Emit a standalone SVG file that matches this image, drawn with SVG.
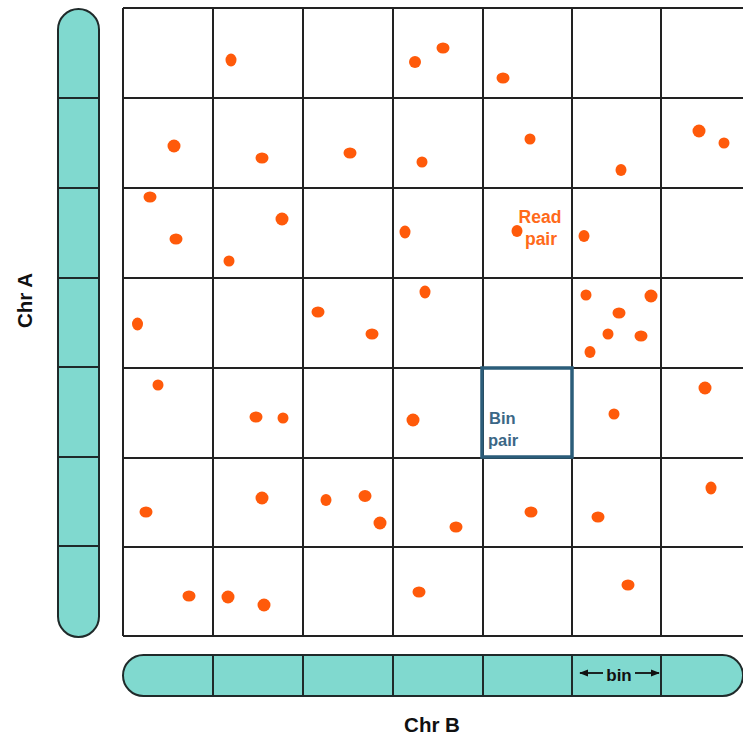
<svg xmlns="http://www.w3.org/2000/svg" width="743" height="740" viewBox="0 0 743 740">
<defs>
<style>
.bar{fill:#80d9cf;stroke:#1f2a2a;stroke-width:2}
.div{stroke:#1f2a2a;stroke-width:2}
.grid{stroke:#222;stroke-width:2;fill:none}
.dot{fill:#ff5a0a}
.lbl{font-family:"Liberation Sans",Arial,sans-serif;font-weight:bold}
</style>
<marker id="ah" viewBox="0 0 10 10" refX="9" refY="5" markerWidth="9" markerHeight="9" orient="auto-start-reverse" markerUnits="userSpaceOnUse">
<path d="M0,1 L10,5 L0,9 Z" fill="#111"/>
</marker>
</defs>
<rect width="743" height="740" fill="#fff"/>

<g id="chrA">
<rect class="bar" x="58" y="9" width="41" height="628" rx="20.5"/>
<path class="div" d="M58,98H99M58,188H99M58,278H99M58,367H99M58,457H99M58,546H99"/>
</g>

<g id="chrB">
<rect class="bar" x="123" y="655" width="620" height="41" rx="20.5"/>
<path class="div" d="M213,655V696M303,655V696M393,655V696M483,655V696M572,655V696M661,655V696"/>
</g>

<g id="grid">
<path class="grid" d="M123,8H743M123,98H743M123,188H743M123,278H743M123,368H743M123,458H743M123,547H743M123,636H743M123,8V636M213,8V636M303,8V636M393,8V636M483,8V636M572,8V636M661,8V636"/>
</g>

<g id="bin-pair">
<rect x="482" y="368" width="90" height="89" fill="none" stroke="#2b5d7a" stroke-width="3.5"/>
<text class="lbl" x="489" y="424" font-size="16.5" fill="#3b6786">Bin</text>
<text class="lbl" x="488" y="446" font-size="16.5" fill="#3b6786">pair</text>
</g>

<g id="read-pairs">
<ellipse class="dot" cx="231" cy="60" rx="5.5" ry="6.5"/>
<ellipse class="dot" cx="415" cy="62" rx="6" ry="6"/>
<ellipse class="dot" cx="443" cy="48" rx="6.5" ry="5.5"/>
<ellipse class="dot" cx="503" cy="78" rx="6.5" ry="5.5"/>
<ellipse class="dot" cx="174" cy="146" rx="6.5" ry="6.5"/>
<ellipse class="dot" cx="262" cy="158" rx="6.5" ry="5.5"/>
<ellipse class="dot" cx="350" cy="153" rx="6.5" ry="5.5"/>
<ellipse class="dot" cx="422" cy="162" rx="5.5" ry="5.5"/>
<ellipse class="dot" cx="530" cy="139" rx="5.5" ry="5.5"/>
<ellipse class="dot" cx="621" cy="170" rx="5.5" ry="6"/>
<ellipse class="dot" cx="699" cy="131" rx="6.5" ry="6.5"/>
<ellipse class="dot" cx="724" cy="143" rx="5.5" ry="5.5"/>
<ellipse class="dot" cx="150" cy="197" rx="6.5" ry="5.5"/>
<ellipse class="dot" cx="176" cy="239" rx="6.5" ry="5.5"/>
<ellipse class="dot" cx="229" cy="261" rx="5.5" ry="5.5"/>
<ellipse class="dot" cx="282" cy="219" rx="6.5" ry="6.5"/>
<ellipse class="dot" cx="405" cy="232" rx="5.5" ry="6.5"/>
<ellipse class="dot" cx="517" cy="231" rx="5.5" ry="6"/>
<ellipse class="dot" cx="584" cy="236" rx="5.5" ry="6"/>
<ellipse class="dot" cx="137.5" cy="324" rx="5.5" ry="6.5"/>
<ellipse class="dot" cx="318" cy="312" rx="6.5" ry="5.5"/>
<ellipse class="dot" cx="372" cy="334" rx="6.5" ry="5.5"/>
<ellipse class="dot" cx="425" cy="292" rx="5.5" ry="6.5"/>
<ellipse class="dot" cx="586" cy="295" rx="5.5" ry="5.5"/>
<ellipse class="dot" cx="651" cy="296" rx="6.5" ry="6.5"/>
<ellipse class="dot" cx="619" cy="313" rx="6.5" ry="5.5"/>
<ellipse class="dot" cx="608" cy="334" rx="5.5" ry="5.5"/>
<ellipse class="dot" cx="641" cy="336" rx="6.5" ry="5.5"/>
<ellipse class="dot" cx="590" cy="352" rx="5.5" ry="6"/>
<ellipse class="dot" cx="158" cy="385" rx="5.5" ry="5.5"/>
<ellipse class="dot" cx="256" cy="417" rx="6.5" ry="5.5"/>
<ellipse class="dot" cx="283" cy="418" rx="5.5" ry="5.5"/>
<ellipse class="dot" cx="413" cy="420" rx="6.5" ry="6.5"/>
<ellipse class="dot" cx="614" cy="414" rx="5.5" ry="5.5"/>
<ellipse class="dot" cx="705" cy="388" rx="6.5" ry="6.5"/>
<ellipse class="dot" cx="146" cy="512" rx="6.5" ry="5.5"/>
<ellipse class="dot" cx="262" cy="498" rx="6.5" ry="6.5"/>
<ellipse class="dot" cx="326" cy="500" rx="5.5" ry="6"/>
<ellipse class="dot" cx="365" cy="496" rx="6.5" ry="6"/>
<ellipse class="dot" cx="380" cy="523" rx="6.5" ry="6.5"/>
<ellipse class="dot" cx="456" cy="527" rx="6.5" ry="5.5"/>
<ellipse class="dot" cx="531" cy="512" rx="6.5" ry="5.5"/>
<ellipse class="dot" cx="598" cy="517" rx="6.5" ry="5.5"/>
<ellipse class="dot" cx="711" cy="488" rx="5.5" ry="6.5"/>
<ellipse class="dot" cx="189" cy="596" rx="6.5" ry="5.5"/>
<ellipse class="dot" cx="228" cy="597" rx="6.5" ry="6.5"/>
<ellipse class="dot" cx="264" cy="605" rx="6.5" ry="6.5"/>
<ellipse class="dot" cx="419" cy="592" rx="6.5" ry="5.5"/>
<ellipse class="dot" cx="628" cy="585" rx="6.5" ry="5.5"/>
</g>

<g id="read-pair-label">
<text class="lbl" x="540" y="223" font-size="17.5" fill="#ff6a1a" text-anchor="middle">Read</text>
<text class="lbl" x="541" y="245" font-size="17.5" fill="#ff6a1a" text-anchor="middle">pair</text>
</g>

<g id="connectors">
<line x1="603" y1="673" x2="580" y2="673" stroke="#111" stroke-width="1.8" marker-end="url(#ah)"/>
<line x1="635" y1="673" x2="659" y2="673" stroke="#111" stroke-width="1.8" marker-end="url(#ah)"/>
</g>

<g id="bin-label">
<text class="lbl" x="619" y="681" font-size="17" fill="#111" text-anchor="middle">bin</text>
</g>

<g id="axis-labels">
<text class="lbl" x="432" y="732" font-size="20.5" fill="#111" text-anchor="middle">Chr B</text>
<text class="lbl" x="0" y="0" font-size="20.5" fill="#111" text-anchor="middle" transform="translate(32,300.5) rotate(-90)">Chr A</text>
</g>
</svg>
